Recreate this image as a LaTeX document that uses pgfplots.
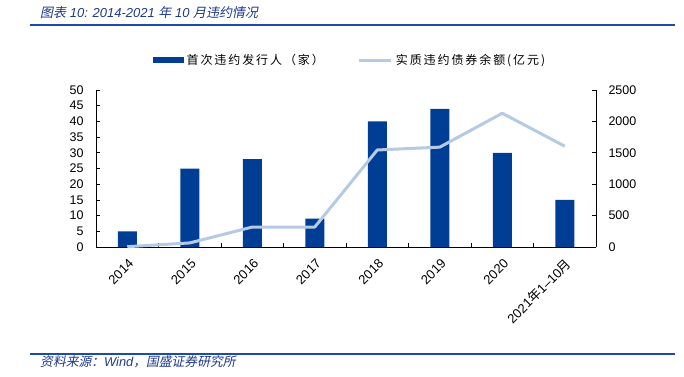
\documentclass[border=0pt]{standalone}
\usepackage{pgfplots}
\pgfplotsset{compat=1.18}
\usepackage{fontspec}
\setmainfont{Liberation Sans}
\newfontfamily\cjk{Noto Sans CJK SC}
\newfontfamily\cjkit[FakeSlant=0.2]{Noto Sans CJK SC}
\newfontfamily\cjkleg[LetterSpace=16]{Noto Sans CJK SC}
\definecolor{barblue}{RGB}{0,62,150}
\definecolor{lineblue}{RGB}{182,202,230}
\definecolor{titleblue}{RGB}{30,55,140}
\definecolor{rulecol}{RGB}{30,75,165}
\begin{document}
\begin{tikzpicture}[x=1pt,y=1pt]
\path[use as bounding box] (0,0) rectangle (684,376);
\draw[rulecol, line width=2pt] (30,351) -- (675,351);
\draw[rulecol, line width=2pt] (30,22) -- (675,22);
\node[anchor=base west, text=titleblue, inner sep=0] at (40,359)
  {\fontsize{13}{15}\selectfont\itshape{\cjkit 图表} 10: 2014-2021 {\cjkit 年} 10 {\cjkit 月违约情况}};
\node[anchor=base west, text=titleblue, inner sep=0] at (40,10)
  {\fontsize{12.8}{14}\selectfont\itshape{\cjkit 资料来源：}Wind{\cjkit ，国盛证券研究所}};
\begin{axis}[
  at={(96pt,129pt)}, anchor=south west, scale only axis,
  width=500pt, height=157pt,
  xmin=-0.5, xmax=7.5, ymin=0, ymax=50,
  axis x line*=bottom, axis y line*=left,
  axis line style={-, black, line width=1pt},
  ytick={0,5,...,50},
  xtick={0,...,7},
  xticklabels={2014,2015,2016,2017,2018,2019,2020,{2021{\cjk 年}1–10{\cjk 月}}},
  minor xtick={0.5,1.5,...,6.5},
  major x tick style={draw=none},
  tick style={black, line width=0.8pt},
  tick align=inside, major tick length=4pt, minor tick length=4pt,
  /pgf/number format/assume math mode=true,
  /pgf/number format/1000 sep={},
  ticklabel style={font=\fontsize{12.5}{14}\selectfont},
  yticklabel style={xshift=-9pt},
  xticklabel style={rotate=45, anchor=east, xshift=-4pt, yshift=-13pt, font=\fontsize{13}{15}\selectfont},
  clip=false,
]
\addplot[ybar, bar width=19pt, fill=barblue, draw=none] coordinates {(0,5)(1,25)(2,28)(3,9)(4,40)(5,44)(6,30)(7,15)};
\end{axis}
\begin{axis}[
  at={(96pt,129pt)}, anchor=south west, scale only axis,
  width=500pt, height=157pt,
  xmin=-0.5, xmax=7.5, ymin=0, ymax=2500,
  axis x line=none, axis y line*=right,
  axis line style={-, black, line width=1pt},
  ytick={0,500,...,2500},
  tick style={black, line width=0.8pt},
  tick align=inside, major tick length=4pt,
  /pgf/number format/assume math mode=true,
  /pgf/number format/1000 sep={},
  ticklabel style={font=\fontsize{12.5}{14}\selectfont},
  yticklabel style={xshift=9pt},
  clip=false,
  legend columns=2,
  legend style={at={(0.114,1.191)}, anchor=west, draw=none, fill=none,
    inner sep=0pt, font=\cjkleg\fontsize{12}{14}\selectfont,
    /tikz/every even column/.append style={column sep=31pt},
    nodes={inner sep=3pt}},
]
\addlegendimage{legend image code/.code={\fill[barblue] (0pt,-2.5pt) rectangle (30pt,2.5pt);}}
\addlegendentry{首次违约发行人（家）}
\addplot[lineblue, line width=3pt, line join=round,
  legend image code/.code={\draw[lineblue, line width=3pt] (0pt,0pt) -- (32pt,0pt);}]
  coordinates {(0,5)(1,65)(2,318)(3,318)(4,1545)(5,1590)(6,2130)(7,1605)};
\addlegendentry{实质违约债券余额(亿元)}
\end{axis}
\end{tikzpicture}
\end{document}
